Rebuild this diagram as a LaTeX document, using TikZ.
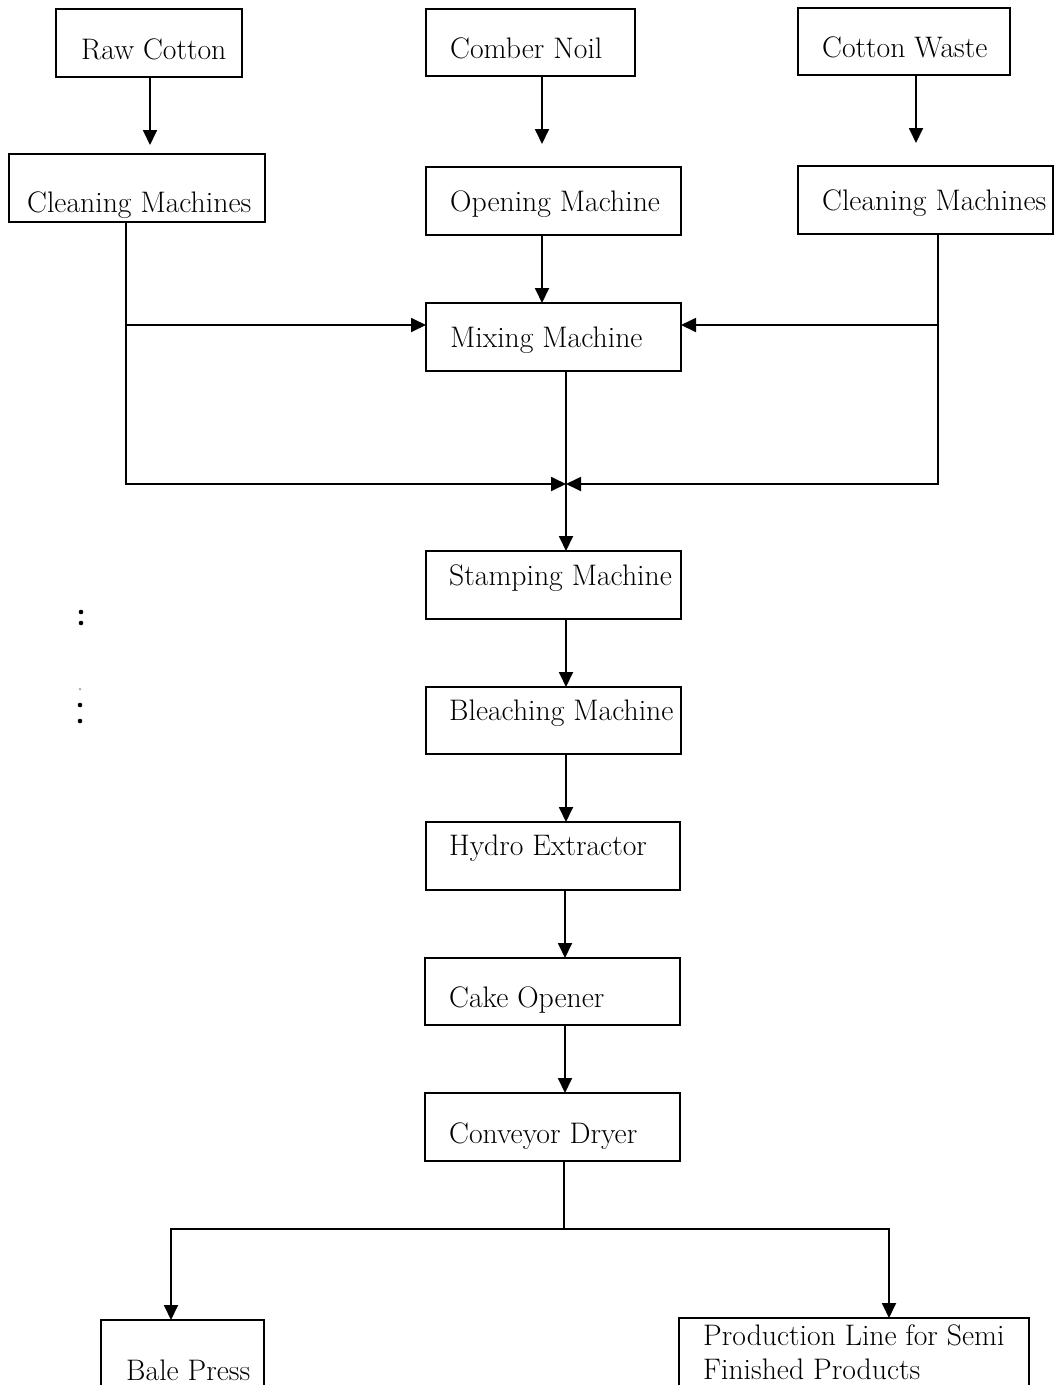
\documentclass[tikz,border=0pt]{standalone}
\usetikzlibrary{arrows.meta,calc}
\begin{document}
\begin{tikzpicture}[x=1pt,y=-1pt,
  box/.style={draw,line width=1.8pt,inner sep=0pt,outer sep=0pt},
  lbl/.style={anchor=base west,inner sep=0pt,font=\fontsize{29.7}{36}\selectfont},
  ln/.style={line width=1.8pt},
  arr/.style={line width=1.8pt,-{Triangle[length=15pt,width=14pt]}}]
\clip (0,0) rectangle (1055,1385);
\fill[white] (0,0) rectangle (1055,1385);
\newcommand\bx[5]{\node[box,minimum width={#4-#2},minimum height={#5-#3}] (#1) at ({(#2+#4)/2},{(#3+#5)/2}) {};}
% boxes
\bx{raw}{56}{9}{242}{77}
\bx{comber}{426}{9}{635}{76}
\bx{waste}{798}{8}{1010}{75}
\bx{cleanL}{9}{154}{265}{222}
\bx{open}{426}{167}{681}{235}
\bx{cleanR}{798}{166}{1053}{234}
\bx{mix}{426}{303}{681}{371}
\bx{stamp}{426}{551}{681}{619}
\bx{bleach}{426}{687}{681}{754}
\bx{hydro}{426}{822}{680}{890}
\bx{cake}{425}{958}{680}{1025}
\bx{conv}{425}{1093}{680}{1161}
\bx{bale}{101}{1320}{264}{1400}
\bx{prod}{679}{1318}{1029}{1400}
% labels
\node[lbl] (rawT) at (81,59) {Raw Cotton};
\node[lbl] (comberT) at (450,58) {Comber Noil};
\node[lbl] (wasteT) at (822,57) {Cotton Waste};
\node[lbl] (cleanLT) at (27,212) {Cleaning Machines};
\node[lbl] (openT) at (450,211) {Opening Machine};
\node[lbl] (cleanRT) at (822,210) {Cleaning Machines};
\node[lbl] (mixT) at (450,347) {Mixing Machine};
\node[lbl] (stampT) at (449,585) {Stamping Machine};
\node[lbl] (bleachT) at (449,720) {Bleaching Machine};
\node[lbl] (hydroT) at (449,855) {Hydro Extractor};
\node[lbl] (cakeT) at (449,1007) {Cake Opener};
\node[lbl] (convT) at (449,1143) {Conveyor Dryer};
\node[lbl] (baleT) at (126,1380) {Bale Press};
\node[lbl] (prodT1) at (703,1345) {Production Line for Semi};
\node[lbl] (prodT2) at (703,1379) {Finished Products};
% stray marks at left
\fill (81,612) circle (2.3) (81,623) circle (2.3);
\fill[gray!60] (80,689) circle (1.5);
\fill (80,705) circle (2.3) (80,721) circle (2.3);
% connectors
\draw[arr] ([xshift=1]raw.south) -- ++(0,68);
\draw[arr] ([xshift=11.5]comber.south) -- ++(0,68);
\draw[arr] ([xshift=12]waste.south) -- ++(0,68);
\draw[arr] ([xshift=-11.5]open.south) -- ([xshift=-11.5]mix.north);
\coordinate (j) at (566,484);
\coordinate (mixL) at ([yshift=12]mix.west);
\coordinate (mixR) at ([yshift=12]mix.east);
\coordinate (cl) at ([xshift=-11]cleanL.south);
\coordinate (cr) at ([xshift=12.5]cleanR.south);
\draw[arr] (cl) |- (j);
\draw[arr] (cl |- mixL) -- (mixL);
\draw[arr] (cr) |- (j);
\draw[arr] (cr |- mixR) -- (mixR);
\draw[arr] ([xshift=12.5]mix.south) -- ([xshift=12.5]stamp.north);
\draw[arr] ([xshift=12.5]stamp.south) -- ([xshift=12.5]bleach.north);
\draw[arr] ([xshift=12.5]bleach.south) -- ([xshift=13]hydro.north);
\draw[arr] ([xshift=12]hydro.south) -- ([xshift=12.5]cake.north);
\draw[arr] ([xshift=12.5]cake.south) -- ([xshift=12.5]conv.north);
\coordinate (split) at ([xshift=11.5,yshift=-68]conv.south);
\draw[ln] ([xshift=11.5]conv.south) -- (split);
\draw[arr] (split) -| ([xshift=-11.5]bale.north);
\draw[arr] (split) -| ([xshift=35]prod.north);
\end{tikzpicture}
\end{document}
